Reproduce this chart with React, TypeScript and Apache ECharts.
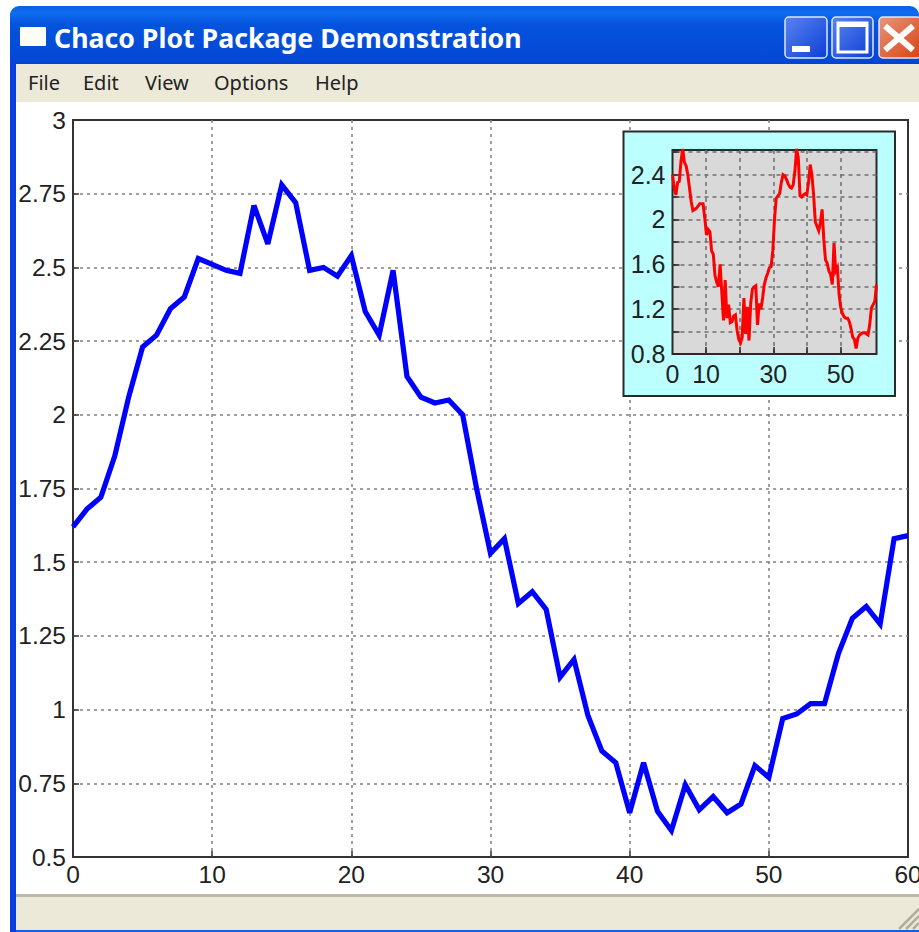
import React, { useEffect, useRef } from "react";
import * as echarts from "echarts";

const windowTitle = "Chaco Plot Package Demonstration";
const menuItems = ["File", "Edit", "View", "Options", "Help"];
const menuX = [28, 83, 145, 214, 315];

const mainValues = [
  1.62, 1.68, 1.72, 1.86, 2.06, 2.23, 2.27, 2.36, 2.4, 2.53,
  2.51, 2.49, 2.48, 2.71, 2.58, 2.78, 2.72, 2.49, 2.5, 2.47,
  2.54, 2.35, 2.27, 2.49, 2.13, 2.06, 2.04, 2.05, 2.0, 1.75,
  1.53, 1.58, 1.36, 1.4, 1.34, 1.11, 1.17, 0.98, 0.86, 0.82,
  0.65, 0.82, 0.655, 0.59, 0.745, 0.66, 0.705, 0.65, 0.68, 0.81,
  0.77, 0.97, 0.985, 1.02, 1.02, 1.19, 1.31, 1.35, 1.29, 1.58, 1.59,
];

const insetValues = [
  2.4, 2.28, 2.22, 2.33, 2.34, 2.52, 2.63, 2.51, 2.48, 2.4,
  2.28, 2.16, 2.08, 2.09, 2.1, 2.12, 2.14, 2.14, 2.14, 2.01,
  1.86, 1.91, 1.89, 1.72, 1.69, 1.5, 1.44, 1.4, 1.6, 1.35,
  1.1, 1.46, 1.12, 1.24, 1.08, 1.09, 1.14, 1.15, 1.01, 0.93,
  0.9, 0.95, 1.3, 0.98, 1.22, 0.92, 1.25, 1.38, 1.4, 1.41,
  1.06, 1.25, 1.2, 1.3, 1.42, 1.48, 1.52, 1.57, 1.58, 1.72,
  2.0, 2.19, 2.21, 2.23, 2.33, 2.4, 2.39, 2.36, 2.32, 2.29,
  2.28, 2.31, 2.43, 2.63, 2.55, 2.21, 2.2, 2.22, 2.23, 2.22,
  2.33, 2.49, 2.4, 2.22, 1.98, 1.94, 1.9, 1.97, 2.09, 1.82,
  1.64, 1.61, 1.54, 1.51, 1.42, 1.79, 1.54, 1.57, 1.33, 1.21,
  1.16, 1.13, 1.12, 1.12, 1.09, 1.03, 0.95, 0.93, 0.85, 0.94,
  0.97, 0.98, 0.99, 0.99, 0.98, 0.97, 1.06, 1.21, 1.24, 1.27, 1.42,
];
const insetXMax = 60.7;
const insetXLabels = [0, 10, 30, 50];
const insetXTicks = [10, 20, 30, 40, 50];
const insetYLabels = [0.8, 1.2, 1.6, 2, 2.4];

const uiFont = "Noto Sans";
const axisFont = "Liberation Sans";
const chromeGrad = () =>
  new echarts.graphic.LinearGradient(0, 0, 0, 1, [
    { offset: 0, color: "#0a5fe8" },
    { offset: 0.12, color: "#0f6cf0" },
    { offset: 0.3, color: "#0553dc" },
    { offset: 0.9, color: "#0448d6" },
    { offset: 1, color: "#0440cc" },
  ]);

function chromeElements(): any[] {
  const btn = (x: number, w: number, a: string, b: string) => ({
    type: "rect",
    shape: { x, y: 17, width: w, height: 41, r: 4 },
    style: {
      fill: new echarts.graphic.LinearGradient(0, 0, 1, 1, [
        { offset: 0, color: a },
        { offset: 1, color: b },
      ]),
      stroke: "#dfe8fb",
      lineWidth: 1.5,
    },
  });
  const grip = [0, 1, 2].map((i) => ({
    type: "line",
    shape: { x1: 899 + i * 7, y1: 929, x2: 919, y2: 909 + i * 7 },
    style: { stroke: "#b3ae9c", lineWidth: 2.5 },
  }));
  return [
    { type: "rect", shape: { x: 10, y: 6, width: 909, height: 60, r: [9, 9, 0, 0] }, style: { fill: chromeGrad() } },
    { type: "rect", shape: { x: 10, y: 60, width: 6, height: 872 }, style: { fill: "#0a3fe0" } },
    { type: "rect", shape: { x: 16, y: 64, width: 903, height: 38 }, style: { fill: "#ece9d8" } },
    { type: "rect", shape: { x: 16, y: 895, width: 903, height: 35 }, style: { fill: "#ece9d8" } },
    { type: "rect", shape: { x: 16, y: 894, width: 903, height: 3 }, style: { fill: "#bdb9a6" } },
    { type: "rect", shape: { x: 16, y: 930, width: 903, height: 2 }, style: { fill: "#1a5ce8" } },
    ...grip,
    { type: "rect", shape: { x: 20, y: 27, width: 26, height: 19, r: 1 }, style: { fill: "#fdfdf6" } },
    {
      type: "text", x: 54, y: 37.5,
      style: { text: windowTitle, fill: "#ffffff", font: `bold 26.7px "${uiFont}"`, verticalAlign: "middle", align: "left" },
    },
    ...menuItems.map((t, i) => ({
      type: "text", x: menuX[i], y: 82.5,
      style: { text: t, fill: "#222222", font: `20px "${uiFont}"`, verticalAlign: "middle", align: "left" },
    })),
    btn(785, 42, "#5b83ee", "#0b3fd8"),
    { type: "rect", shape: { x: 792, y: 46, width: 18, height: 6 }, style: { fill: "#ffffff" } },
    btn(832, 41, "#5b83ee", "#0b3fd8"),
    { type: "rect", shape: { x: 838, y: 23, width: 29, height: 29 }, style: { fill: "none", stroke: "#ffffff", lineWidth: 3 } },
    { type: "rect", shape: { x: 838, y: 23, width: 29, height: 4 }, style: { fill: "#ffffff" } },
    btn(879, 42, "#e8967c", "#d8420f"),
    { type: "line", shape: { x1: 885, y1: 26, x2: 913, y2: 50 }, style: { stroke: "#ffffff", lineWidth: 6 } },
    { type: "line", shape: { x1: 913, y1: 26, x2: 885, y2: 50 }, style: { stroke: "#ffffff", lineWidth: 6 } },
    {
      type: "rect", z: 10,
      shape: { x: 623.5, y: 131.5, width: 271.5, height: 264.5 },
      style: { fill: "#bbffff", stroke: "#2a2a2a", lineWidth: 2 },
    },
  ];
}

const roundTenth = (v: number) => Math.round(v * 10) / 10;

export default function App() {
  const ref = useRef<HTMLDivElement>(null);
  useEffect(() => {
    const chart = echarts.init(ref.current!, undefined, { renderer: "svg", width: 919, height: 932 });
    const mainSplit = { show: true, showMinLine: false, showMaxLine: false, lineStyle: { color: "#808080", type: [3, 4] as any, width: 1.5 } };
    const insetSplit = { show: true, showMinLine: false, showMaxLine: false, lineStyle: { color: "#6e6e6e", type: [4, 4] as any, width: 1.5 } };
    const insetXSplit = { show: true, lineStyle: { color: "#6e6e6e", type: [4, 4] as any, width: 1.5 } };
    chart.setOption({
      animation: false,
      backgroundColor: "#ffffff",
      graphic: { elements: chromeElements() },
      grid: [
        { left: 73, top: 120, width: 835, height: 737, show: true, outerBoundsMode: "none", borderColor: "#333333", borderWidth: 2, backgroundColor: "transparent", containLabel: false },
        { left: 672.5, top: 150, width: 204, height: 204, show: true, outerBoundsMode: "none", z: 11, borderColor: "#2a2a2a", borderWidth: 2, backgroundColor: "#d9d9d9", containLabel: false },
      ],
      xAxis: [
        {
          type: "value", gridIndex: 0, min: 0, max: 60, interval: 10,
          axisLine: { show: false },
          axisTick: { show: true, inside: true, length: 6, lineStyle: { color: "#333", width: 1.5 } },
          axisLabel: { color: "#222", fontFamily: axisFont, fontSize: 24.5, margin: 5, showMinLabel: true, showMaxLabel: true, hideOverlap: false },
          splitLine: mainSplit,
        },
        {
          type: "value", gridIndex: 1, min: 0, max: insetXMax, z: 12,
          axisLine: { show: false },
          axisTick: { show: true, inside: true, length: 7, customValues: insetXTicks, lineStyle: { color: "#222", width: 1.5 } },
          axisLabel: { color: "#222", fontFamily: axisFont, fontSize: 25, margin: 7, customValues: insetXLabels, hideOverlap: false },
          splitLine: insetXSplit,
        },
      ],
      yAxis: [
        {
          type: "value", gridIndex: 0, min: 0.5, max: 3, interval: 0.25,
          axisLine: { show: false },
          axisTick: { show: true, inside: true, length: 6, lineStyle: { color: "#333", width: 1.5 } },
          axisLabel: { color: "#222", fontFamily: axisFont, fontSize: 24.5, margin: 7, showMinLabel: true, showMaxLabel: true, hideOverlap: false },
          splitLine: mainSplit,
        },
        {
          type: "value", gridIndex: 1, min: 0.8, max: 2.62, interval: 0.2, z: 12,
          axisLine: { show: false },
          axisTick: { show: true, inside: true, length: 7, lineStyle: { color: "#222", width: 1.5 } },
          axisLabel: {
            color: "#222", fontFamily: axisFont, fontSize: 25, margin: 7, showMinLabel: true, hideOverlap: false,
            formatter: (v: number) => (insetYLabels.includes(roundTenth(v)) && Math.abs(v - roundTenth(v)) < 0.001 ? String(roundTenth(v)) : ""),
          },
          splitLine: insetSplit,
        },
      ],
      series: [
        {
          type: "line", xAxisIndex: 0, yAxisIndex: 0, z: 3, clip: true, showSymbol: false, silent: true,
          data: mainValues.map((v, i) => [i, v]),
          lineStyle: { color: "#0000ff", width: 5.2, join: "miter", miterLimit: 3 },
        },
        {
          type: "line", xAxisIndex: 1, yAxisIndex: 1, z: 14, clip: false, showSymbol: false, silent: true,
          data: insetValues.map((v, i) => [(i * insetXMax) / (insetValues.length - 1), v]),
          lineStyle: { color: "#ff0000", width: 3, join: "miter" },
        },
      ],
    });
    return () => chart.dispose();
  }, []);
  return <div ref={ref} style={{ position: "fixed", left: 0, top: 0, width: 919, height: 932 }} />;
}
